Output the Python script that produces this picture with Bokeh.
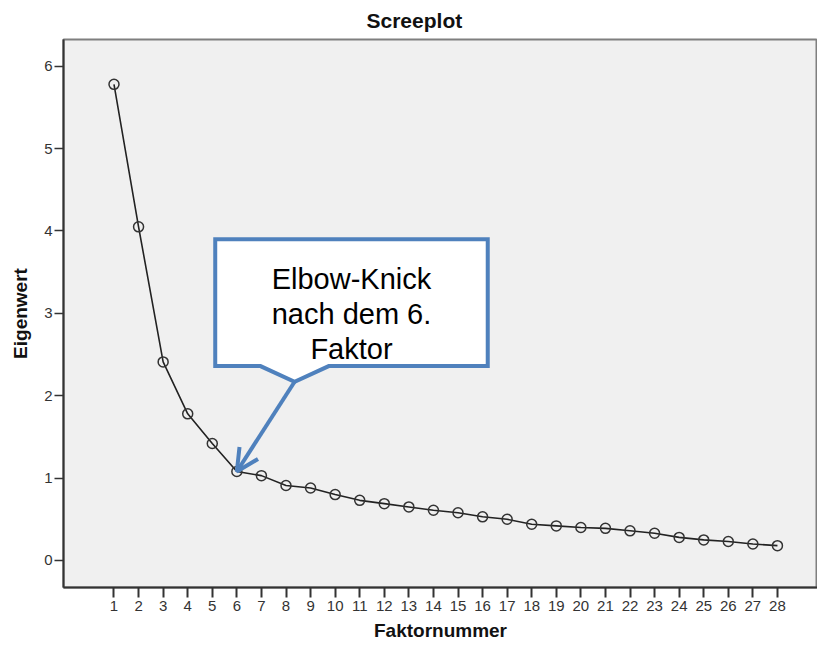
from bokeh.plotting import figure
from bokeh.models import Range1d, FixedTicker, Arrow, OpenHead
from bokeh.embed import file_html
from bokeh.resources import INLINE
from bokeh.core.properties import value

# ---- data ----
factors = list(range(1, 29))
eigenvalues = [5.78, 4.05, 2.41, 1.78, 1.42, 1.08, 1.03, 0.91, 0.88, 0.80,
               0.73, 0.69, 0.65, 0.61, 0.58, 0.53, 0.50, 0.44, 0.42, 0.40,
               0.39, 0.36, 0.33, 0.28, 0.25, 0.23, 0.20, 0.18]
y_ticks = [0, 1, 2, 3, 4, 5, 6]
title_text = "Screeplot"
x_label = "Faktornummer"
y_label = "Eigenwert"
callout_lines = ["Elbow-Knick", "nach dem 6.", "Faktor"]
elbow_index = 5  # 6th factor

# ---- callout geometry (data units) ----
box_left, box_right, box_top, box_bottom = 5.12, 16.21, 3.90, 2.36
notch_x0, notch_x1 = 6.96, 9.74
apex_x, apex_y = 8.35, 2.17
line_y = [3.42, 2.99, 2.57]

FONT = "Liberation Sans"
BLUE = "#4F81BD"

p = figure(width=817, height=645,
           x_range=Range1d(-1.055, 29.63), y_range=Range1d(-0.328, 6.324),
           output_backend="svg", toolbar_location=None,
           min_border_left=63, min_border_right=0,
           min_border_top=39, min_border_bottom=58)
p.background_fill_color = "#F0F0F0"
p.border_fill_color = "white"
p.outline_line_color = "#7f7f7f"
p.outline_line_width = 2
p.grid.visible = False

# title
p.title.text = title_text
p.title.text_font = FONT
p.title.text_font_size = "21px"
p.title.text_font_style = "bold"
p.title.text_color = "#111111"
p.title.align = "left"
p.title.offset = 303
p.title.standoff = 14
p.title.vertical_align = "middle"

# x axis
xa = p.xaxis[0]
xa.ticker = FixedTicker(ticks=factors)
xa.minor_tick_line_color = None
xa.major_tick_in = 0
xa.major_tick_out = 10
xa.major_tick_line_width = 2
xa.major_tick_line_color = "#333333"
xa.axis_line_color = "#333333"
xa.axis_line_width = 2
xa.major_label_standoff = 3
xa.major_label_text_font = FONT
xa.major_label_text_font_size = "15px"
xa.major_label_text_color = "#333333"
xa.axis_label = x_label
xa.axis_label_text_font = FONT
xa.axis_label_text_font_size = "19px"
xa.axis_label_text_font_style = "bold"
xa.axis_label_text_color = "#111111"
xa.axis_label_standoff = 6

# y axis
ya = p.yaxis[0]
ya.ticker = FixedTicker(ticks=y_ticks)
ya.minor_tick_line_color = None
ya.major_tick_in = 0
ya.major_tick_out = 9
ya.major_tick_line_width = 1.5
ya.major_tick_line_color = "#333333"
ya.axis_line_color = "#333333"
ya.axis_line_width = 2
ya.major_label_standoff = 2
ya.major_label_text_font = FONT
ya.major_label_text_font_size = "15px"
ya.major_label_text_color = "#333333"
ya.axis_label = y_label
ya.axis_label_text_font = FONT
ya.axis_label_text_font_size = "19px"
ya.axis_label_text_font_style = "bold"
ya.axis_label_text_color = "#111111"
ya.axis_label_standoff = 10

# data
p.line(factors, eigenvalues, line_color="#222222", line_width=1.6)
p.scatter(factors, eigenvalues, marker="circle", size=10,
          fill_color=None, line_color="#333333", line_width=1.5)

# callout box
xs = [box_left, box_right, box_right, notch_x1, apex_x, notch_x0, box_left]
ys = [box_top, box_top, box_bottom, box_bottom, apex_y, box_bottom, box_bottom]
p.patch(xs, ys, fill_color="white", line_color=BLUE, line_width=4, line_join="miter")

arrow = Arrow(end=OpenHead(size=22, line_color=BLUE, line_width=4),
              x_start=apex_x, y_start=apex_y,
              x_end=factors[elbow_index], y_end=eigenvalues[elbow_index],
              line_color=BLUE, line_width=4)
p.add_layout(arrow)

cx = (box_left + box_right) / 2
p.text(x=[cx] * 3, y=line_y, text=callout_lines, text_align="center",
       text_baseline="alphabetic", text_font=value(FONT), text_font_size="29px",
       text_color="black")

open("out.html", "w").write(file_html(p, INLINE))
